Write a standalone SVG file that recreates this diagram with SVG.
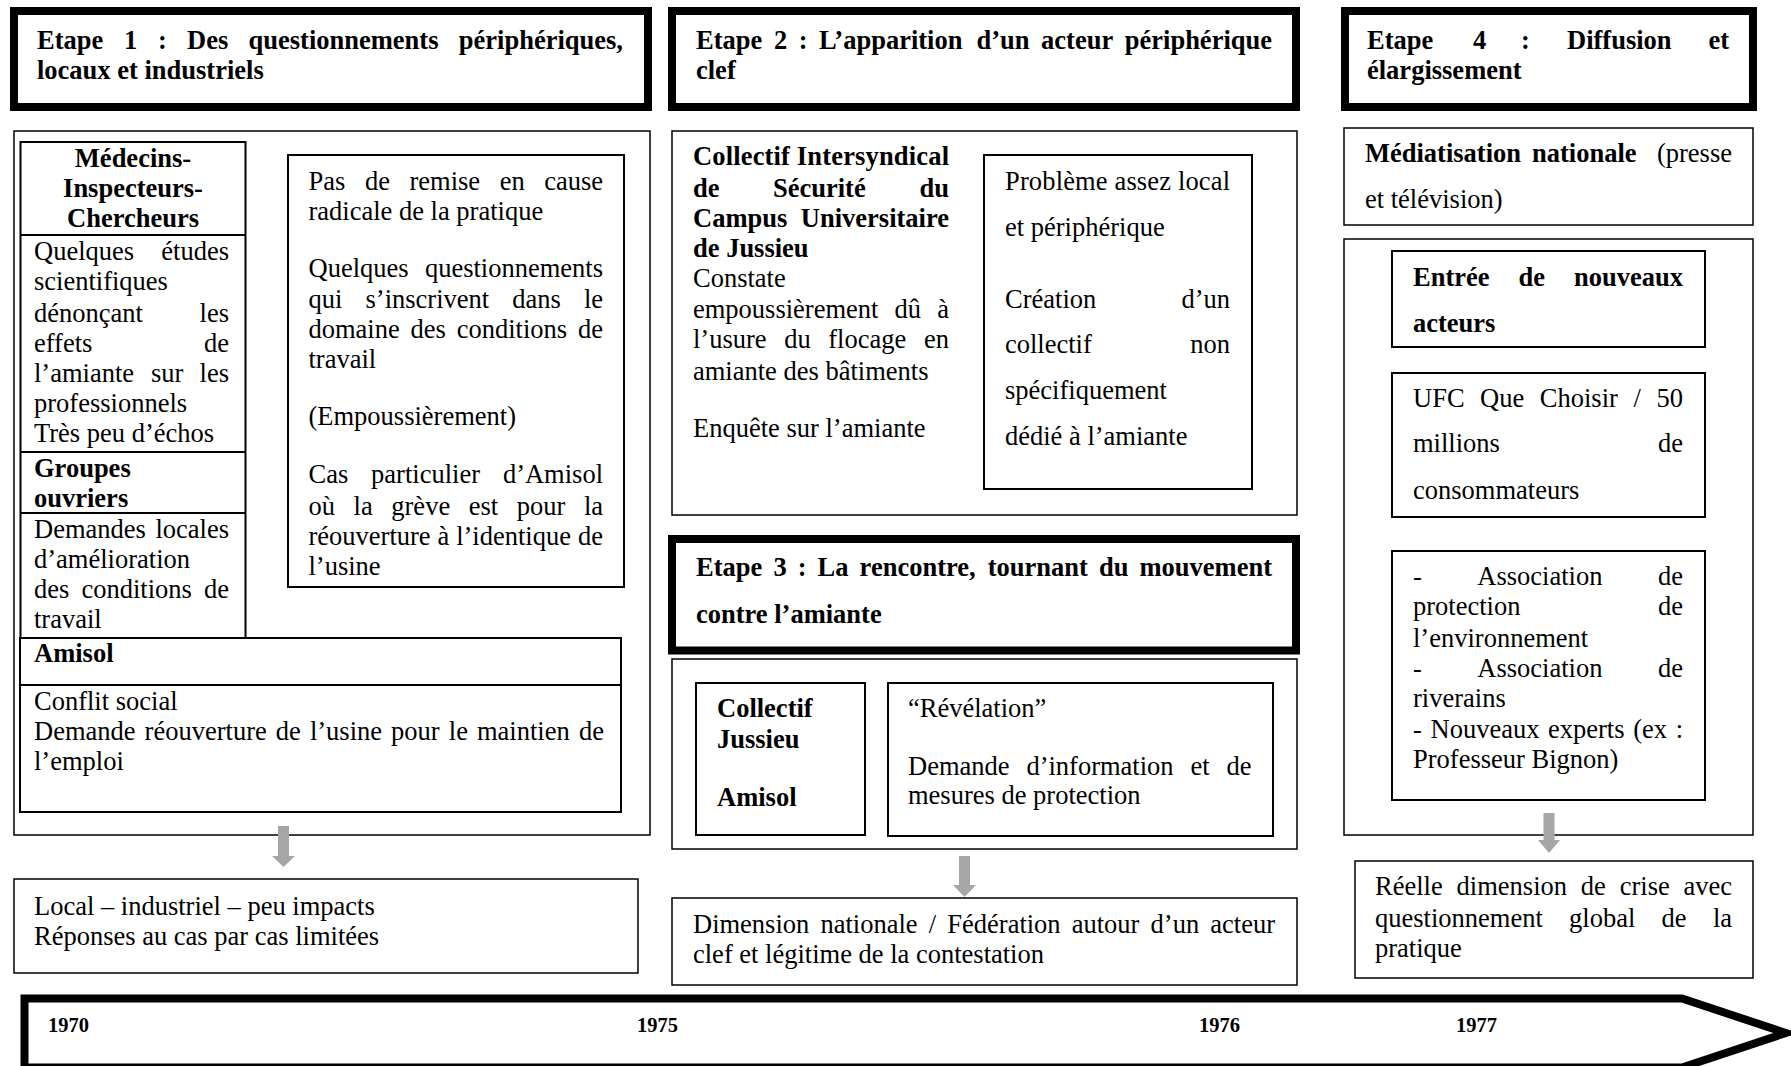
<svg xmlns="http://www.w3.org/2000/svg" width="1791" height="1066" viewBox="0 0 1791 1066">
<style>
.t{font-family:"Liberation Serif","Times New Roman",serif;font-size:26.5px;fill:#000}
.b{font-weight:bold}
.e{text-anchor:end}
.m{text-anchor:middle}
.yr{font-family:"Liberation Serif","Times New Roman",serif;font-size:20.5px;font-weight:bold;fill:#000}
.hdr{fill:none;stroke:#000;stroke-width:8}
.box{fill:none;stroke:#000;stroke-width:1.5}
.tb{fill:none;stroke:#000;stroke-width:2}
.arr{fill:#a6a6a6;stroke:none}
</style>
<rect width="1791" height="1066" fill="#fff"/>

<!-- ===== Column 1 ===== -->
<g id="etape1">
<rect class="hdr" x="14" y="11" width="634" height="96"/>
<text class="t b" y="49"><tspan x="37">Etape</tspan><tspan x="124">1</tspan><tspan x="158">:</tspan><tspan x="187">Des</tspan><tspan x="248.5">questionnements</tspan></text>
<text class="t b e" x="623" y="49">périphériques,</text>
<text class="t b" x="37" y="79">locaux et industriels</text>
</g>

<g id="col1-box">
<rect class="box" x="14" y="131" width="636" height="704"/>
</g>

<g id="medecins">
<rect class="tb" x="20.5" y="142" width="225" height="496"/>
<line class="tb" x1="20.5" y1="235" x2="245.5" y2="235"/>
<line class="tb" x1="20.5" y1="452" x2="245.5" y2="452"/>
<line class="tb" x1="20.5" y1="513" x2="245.5" y2="513"/>
<text class="t b m" x="133" y="167">Médecins-</text>
<text class="t b m" x="133" y="197">Inspecteurs-</text>
<text class="t b m" x="133" y="227">Chercheurs</text>
<text class="t" x="34" y="260">Quelques</text><text class="t e" x="229" y="260">études</text>
<text class="t" x="34" y="290">scientifiques</text>
<text class="t" x="34" y="322">dénonçant</text><text class="t e" x="229" y="322">les</text>
<text class="t" x="34" y="352">effets</text><text class="t e" x="229" y="352">de</text>
<text class="t" y="382"><tspan x="34">l’amiante</tspan><tspan x="151">sur</tspan></text><text class="t e" x="229" y="382">les</text>
<text class="t" x="34" y="412">professionnels</text>
<text class="t" x="34" y="442">Très peu d’échos</text>
<text class="t b" x="34" y="477">Groupes</text>
<text class="t b" x="34" y="507">ouvriers</text>
<text class="t" x="34" y="538">Demandes</text><text class="t e" x="229" y="538">locales</text>
<text class="t" x="34" y="568">d’amélioration</text>
<text class="t" y="598"><tspan x="34">des</tspan><tspan x="81.5">conditions</tspan></text><text class="t e" x="229" y="598">de</text>
<text class="t" x="34" y="628">travail</text>
</g>

<g id="pratique">
<rect class="tb" x="288" y="155" width="336" height="432"/>
<text class="t" y="190"><tspan x="308.5">Pas</tspan><tspan x="365">de</tspan><tspan x="409.5">remise</tspan><tspan x="499.7">en</tspan></text><text class="t e" x="603" y="190">cause</text>
<text class="t" x="308.5" y="220">radicale de la pratique</text>
<text class="t" x="308.5" y="277">Quelques</text><text class="t e" x="603" y="277">questionnements</text>
<text class="t" y="308"><tspan x="308.5">qui</tspan><tspan x="365.5">s’inscrivent</tspan><tspan x="512.2">dans</tspan></text><text class="t e" x="603" y="308">le</text>
<text class="t" y="338"><tspan x="308.5">domaine</tspan><tspan x="410.6">des</tspan><tspan x="456.7">conditions</tspan></text><text class="t e" x="603" y="338">de</text>
<text class="t" x="308.5" y="368">travail</text>
<text class="t" x="308.5" y="425">(Empoussièrement)</text>
<text class="t" y="483"><tspan x="308.5">Cas</tspan><tspan x="371.1">particulier</tspan></text><text class="t e" x="603" y="483">d’Amisol</text>
<text class="t" y="515"><tspan x="308.5">où</tspan><tspan x="353.6">la</tspan><tspan x="391.3">grève</tspan><tspan x="468.8">est</tspan><tspan x="516.8">pour</tspan></text><text class="t e" x="603" y="515">la</text>
<text class="t" y="545"><tspan x="308.5">réouverture</tspan><tspan x="437.5">à</tspan><tspan x="456.2">l’identique</tspan></text><text class="t e" x="603" y="545">de</text>
<text class="t" x="308.5" y="575">l’usine</text>
</g>

<g id="amisol">
<rect class="tb" x="20" y="638" width="601" height="174"/>
<line class="tb" x1="20" y1="685" x2="621" y2="685"/>
<text class="t b" x="34" y="662">Amisol</text>
<text class="t" x="34" y="710">Conflit social</text>
<text class="t" y="740"><tspan x="34">Demande</tspan><tspan x="144.6">réouverture</tspan><tspan x="275.8">de</tspan><tspan x="309.9">l’usine</tspan><tspan x="391.1">pour</tspan><tspan x="448.8">le</tspan><tspan x="477">maintien</tspan></text>
<text class="t e" x="604" y="740">de</text>
<text class="t" x="34" y="770">l’emploi</text>
</g>

<g id="result1">
<rect class="box" x="14" y="879" width="624" height="94"/>
<text class="t" x="34" y="915">Local – industriel – peu impacts</text>
<text class="t" x="34" y="945">Réponses au cas par cas limitées</text>
</g>

<!-- ===== Column 2 ===== -->
<g id="etape2">
<rect class="hdr" x="672" y="11" width="624" height="96"/>
<text class="t b" y="49"><tspan x="696">Etape</tspan><tspan x="773.9">2</tspan><tspan x="798.7">:</tspan><tspan x="819.1">L’apparition</tspan><tspan x="976.5">d’un</tspan><tspan x="1041.1">acteur</tspan></text>
<text class="t b e" x="1272" y="49">périphérique</text>
<text class="t b" x="696" y="79">clef</text>
</g>

<g id="collectif">
<rect class="box" x="672" y="131" width="625" height="384"/>
<text class="t b" x="693" y="165" textLength="256" lengthAdjust="spacing">Collectif Intersyndical</text>
<text class="t b" y="197"><tspan x="693">de</tspan><tspan x="773">Sécurité</tspan></text><text class="t b e" x="949" y="197">du</text>
<text class="t b" x="693" y="227">Campus</text><text class="t b e" x="949" y="227">Universitaire</text>
<text class="t b" x="693" y="257">de Jussieu</text>
<text class="t" x="693" y="287">Constate</text>
<text class="t" y="318"><tspan x="693">empoussièrement</tspan><tspan x="894.6">dû</tspan></text><text class="t e" x="949" y="318">à</text>
<text class="t" y="348"><tspan x="693">l’usure</tspan><tspan x="784.2">du</tspan><tspan x="828.3">flocage</tspan></text><text class="t e" x="949" y="348">en</text>
<text class="t" x="693" y="380">amiante des bâtiments</text>
<text class="t" x="693" y="437">Enquête sur l’amiante</text>
</g>

<g id="probleme">
<rect class="tb" x="984" y="155" width="268" height="334"/>
<text class="t" x="1005" y="190" textLength="225" lengthAdjust="spacing">Problème assez local</text>
<text class="t" x="1005" y="236">et périphérique</text>
<text class="t" x="1005" y="308">Création</text><text class="t e" x="1230" y="308">d’un</text>
<text class="t" x="1005" y="353">collectif</text><text class="t e" x="1230" y="353">non</text>
<text class="t" x="1005" y="399">spécifiquement</text>
<text class="t" x="1005" y="445">dédié à l’amiante</text>
</g>

<g id="etape3">
<rect class="hdr" x="672" y="539" width="624" height="111.5"/>
<text class="t b" y="576"><tspan x="696">Etape</tspan><tspan x="773.4">3</tspan><tspan x="797.7">:</tspan><tspan x="817.6">La</tspan><tspan x="859.6">rencontre,</tspan><tspan x="987.7">tournant</tspan><tspan x="1098.9">du</tspan></text>
<text class="t b e" x="1272" y="576">mouvement</text>
<text class="t b" x="696" y="623">contre l’amiante</text>
</g>

<g id="rencontre">
<rect class="box" x="672" y="659" width="625" height="190"/>
</g>

<g id="acteurs3">
<rect class="tb" x="696" y="683" width="169" height="152"/>
<text class="t b" x="717" y="717">Collectif</text>
<text class="t b" x="717" y="748">Jussieu</text>
<text class="t b" x="717" y="806">Amisol</text>
</g>

<g id="revelation">
<rect class="tb" x="888" y="683" width="385" height="153"/>
<text class="t" x="908" y="717">“Révélation”</text>
<text class="t" y="775"><tspan x="908">Demande</tspan><tspan x="1026.4">d’information</tspan><tspan x="1190.5">et</tspan></text>
<text class="t e" x="1251.5" y="775">de</text>
<text class="t" x="908" y="804">mesures de protection</text>
</g>

<g id="result2">
<rect class="box" x="672" y="898" width="625" height="87"/>
<text class="t" y="933"><tspan x="693">Dimension</tspan><tspan x="820.5">nationale</tspan><tspan x="928.7">/</tspan><tspan x="947.3">Fédération</tspan><tspan x="1071.7">autour</tspan><tspan x="1150.6">d’un</tspan></text>
<text class="t e" x="1275" y="933">acteur</text>
<text class="t" x="693" y="963">clef et légitime de la contestation</text>
</g>

<!-- ===== Column 4 ===== -->
<g id="etape4">
<rect class="hdr" x="1345" y="11" width="408" height="96"/>
<text class="t b" y="49"><tspan x="1367">Etape</tspan><tspan x="1473">4</tspan><tspan x="1521">:</tspan><tspan x="1567">Diffusion</tspan></text>
<text class="t b e" x="1729" y="49">et</text>
<text class="t b" x="1367" y="79">élargissement</text>
</g>

<g id="mediatisation">
<rect class="box" x="1344" y="128" width="409" height="97"/>
<text class="t b" y="162"><tspan x="1365">Médiatisation</tspan><tspan x="1532">nationale</tspan></text>
<text class="t e" x="1732" y="162">(presse</text>
<text class="t" x="1365" y="208">et télévision)</text>
</g>

<g id="nouveaux-box">
<rect class="box" x="1344" y="239" width="409" height="596"/>
</g>

<g id="entree">
<rect class="tb" x="1392" y="251" width="313" height="96"/>
<text class="t b" y="286"><tspan x="1413">Entrée</tspan><tspan x="1518.5">de</tspan></text>
<text class="t b e" x="1683" y="286">nouveaux</text>
<text class="t b" x="1413" y="332">acteurs</text>
</g>

<g id="ufc">
<rect class="tb" x="1392" y="373" width="313" height="144"/>
<text class="t" y="407"><tspan x="1413">UFC</tspan><tspan x="1480.1">Que</tspan><tspan x="1539.8">Choisir</tspan><tspan x="1633.4">/</tspan></text>
<text class="t e" x="1683" y="407">50</text>
<text class="t" x="1413" y="452">millions</text><text class="t e" x="1683" y="452">de</text>
<text class="t" x="1413" y="499">consommateurs</text>
</g>

<g id="associations">
<rect class="tb" x="1392" y="551" width="313" height="249"/>
<text class="t" y="585"><tspan x="1413">-</tspan><tspan x="1477.3">Association</tspan></text><text class="t e" x="1683" y="585">de</text>
<text class="t" x="1413" y="615">protection</text><text class="t e" x="1683" y="615">de</text>
<text class="t" x="1413" y="647">l’environnement</text>
<text class="t" y="677"><tspan x="1413">-</tspan><tspan x="1477.3">Association</tspan></text><text class="t e" x="1683" y="677">de</text>
<text class="t" x="1413" y="707">riverains</text>
<text class="t" y="738"><tspan x="1413">-</tspan><tspan x="1430.5">Nouveaux</tspan><tspan x="1548">experts</tspan><tspan x="1633.2">(ex</tspan></text>
<text class="t e" x="1683" y="738">:</text>
<text class="t" x="1413" y="768">Professeur Bignon)</text>
</g>

<g id="result4">
<rect class="box" x="1355" y="861" width="398" height="117"/>
<text class="t" y="895"><tspan x="1375">Réelle</tspan><tspan x="1456.6">dimension</tspan><tspan x="1580.8">de</tspan><tspan x="1619.7">crise</tspan></text>
<text class="t e" x="1732" y="895">avec</text>
<text class="t" y="927"><tspan x="1375">questionnement</tspan><tspan x="1569.1">global</tspan><tspan x="1661.6">de</tspan></text>
<text class="t e" x="1732" y="927">la</text>
<text class="t" x="1375" y="957">pratique</text>
</g>

<!-- ===== Connectors ===== -->
<g id="connectors">
<polygon class="arr" points="278,826 289,826 289,856 295,856 283.5,867 272,856 278,856"/>
<polygon class="arr" points="959,856 970,856 970,885 976,885 964.5,897 953,885 959,885"/>
<polygon class="arr" points="1543.5,813 1554.5,813 1554.5,840 1560,840 1549,853 1538,840 1543.5,840"/>
</g>

<!-- ===== Timeline ===== -->
<g id="timeline">
<polygon points="24.5,998.5 1682,998.5 1786,1033 1682,1067.5 24.5,1067.5" fill="none" stroke="#000" stroke-width="8" stroke-linejoin="miter"/>
<text class="yr" x="48" y="1032">1970</text>
<text class="yr" x="637" y="1032">1975</text>
<text class="yr" x="1199" y="1032">1976</text>
<text class="yr" x="1456" y="1032">1977</text>
</g>
</svg>
